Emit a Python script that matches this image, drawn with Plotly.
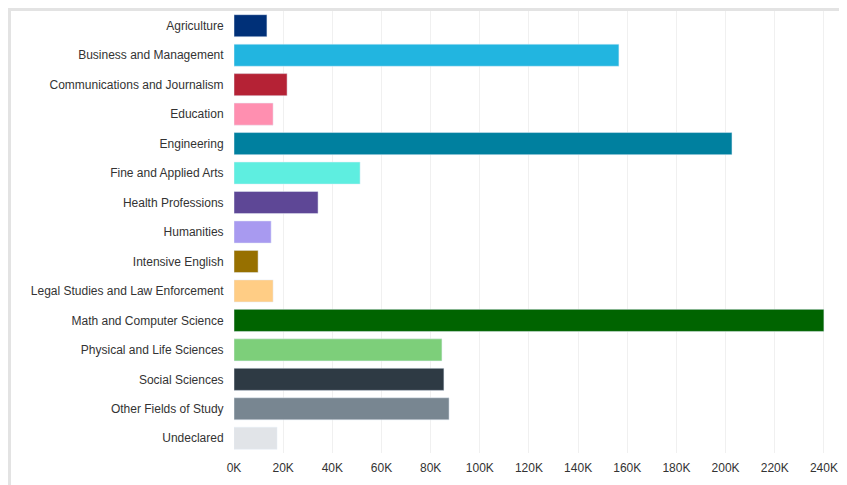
import plotly.graph_objects as go

categories = ["Agriculture", "Business and Management", "Communications and Journalism", "Education",
              "Engineering", "Fine and Applied Arts", "Health Professions", "Humanities",
              "Intensive English", "Legal Studies and Law Enforcement", "Math and Computer Science",
              "Physical and Life Sciences", "Social Sciences", "Other Fields of Study", "Undeclared"]
values = [13400, 156600, 21600, 15900, 202600, 51300, 34200, 15100, 9800, 15900, 240000,
          84600, 85400, 87500, 17500]
colors = ["#003078", "#22b5e0", "#b52235", "#ff8fb0", "#00809f", "#5eeee0", "#5e4796", "#a89af0",
          "#977000", "#ffcd85", "#006400", "#7dcf7a", "#2e3a44", "#788691", "#e1e4e8"]

fig = go.Figure(go.Bar(x=values, y=categories, orientation="h", marker_color=colors))
W, H = 847, 485
L, R, T, B = 226, 7, 3, 40
pw, ph = W - L - R, H - T - B
fig.update_layout(
    width=W, height=H, margin=dict(l=L, r=R, t=T, b=B),
    plot_bgcolor="white", paper_bgcolor="white", bargap=0.25, showlegend=False,
    font=dict(family="Liberation Sans, Arial", size=12, color="#333"),
    xaxis=dict(range=[0, 249800], tickvals=list(range(0, 240001, 20000)),
               ticktext=[f"{v}K" for v in range(0, 241, 20)], automargin=False,
               showgrid=True, gridcolor="#f0f0f0", zeroline=False,
               ticks="outside", ticklen=4, tickcolor="white", tickfont=dict(size=12)),
    yaxis=dict(autorange="reversed", showgrid=False, automargin=False,
               ticks="outside", ticklen=7, tickcolor="white"),
    shapes=[dict(type="rect", xref="paper", yref="paper",
                 x0=-L / pw + 1.5 / pw, x1=1 + R / pw - 1.5 / pw,
                 y0=-B / ph + 1.5 / ph, y1=1 + T / ph - 1.5 / ph,
                 line=dict(color="#e3e3e3", width=3), layer="below")],
)
fig.write_html("out.html")
